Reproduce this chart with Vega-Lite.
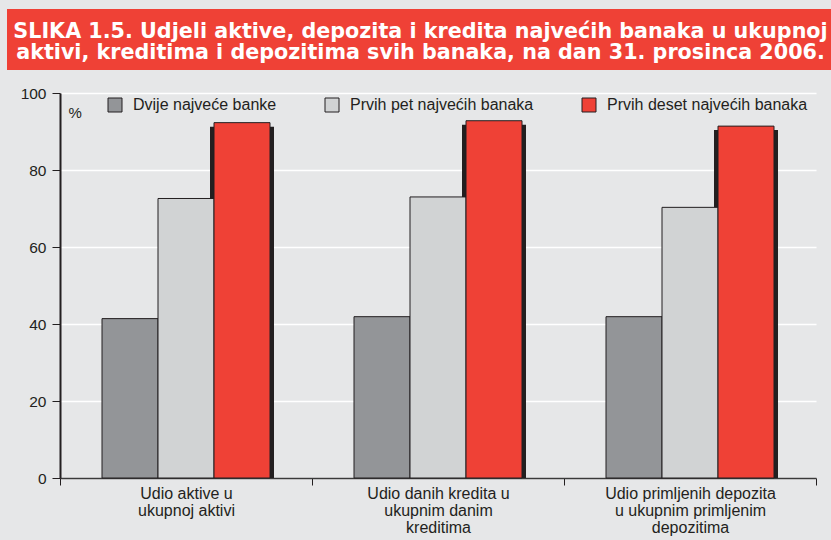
{
  "$schema": "https://vega.github.io/schema/vega-lite/v6.json",
  "background": "#e6e7e8",
  "autosize": {"type": "none"},
  "padding": {"left": 60, "top": 93, "right": 15, "bottom": 62},
  "width": 756,
  "height": 385,
  "config": {
    "font": "Liberation Sans",
    "view": {"stroke": null}
  },
  "layer": [
    {
      "data": {"name": "udjeli"},
      "transform": [{"filter": "datum.skupina === 'Prvih deset najvećih banaka'"}],
      "mark": {"type": "bar", "color": "#231f20", "stroke": "#231f20", "strokeWidth": 8, "yOffset": 8, "clip": true},
      "encoding": {
        "x": {"field": "kategorija", "type": "nominal", "sort": null},
        "xOffset": {"field": "skupina", "type": "nominal", "sort": ["Dvije najveće banke", "Prvih pet najvećih banaka", "Prvih deset najvećih banaka"]},
        "y": {"field": "udio", "type": "quantitative"}
      }
    },
    {
      "data": {"name": "udjeli"},
      "mark": {"type": "bar", "stroke": "#231f20", "strokeWidth": 1, "opacity": 1},
      "encoding": {
        "x": {
          "field": "kategorija", "type": "nominal", "sort": null,
          "scale": {"paddingInner": 0, "paddingOuter": 0},
          "axis": {
            "title": null,
            "tickBand": "extent", "labelAngle": 0, "labelAlign": "center",
            "labelExpr": "split(datum.label, '\\n')",
            "labelFontSize": 16, "labelLineHeight": 17, "labelColor": "#231f20", "labelPadding": 0,
            "labelBaseline": "top",
            "domainColor": "#3a3a3a", "domainWidth": 1.5,
            "tickColor": "#231f20", "tickSize": 7, "tickWidth": 1,
            "grid": false
          }
        },
        "xOffset": {
          "field": "skupina", "type": "nominal",
          "sort": ["Dvije najveće banke", "Prvih pet najvećih banaka", "Prvih deset najvećih banaka"],
          "scale": {"paddingInner": 0, "paddingOuter": 0.75}
        },
        "y": {
          "field": "udio", "type": "quantitative",
          "scale": {"domain": [0, 100], "nice": false},
          "axis": {
            "values": [0, 20, 40, 60, 80, 100],
            "title": "%", "titleAngle": 0, "titleX": 8, "titleY": 24,
            "titleAlign": "left", "titleBaseline": "alphabetic",
            "titleFontWeight": "normal", "titleFontSize": 15, "titleColor": "#231f20",
            "grid": true, "gridColor": "#ffffff", "gridWidth": 1.5,
            "domainColor": "#231f20", "domainWidth": 2,
            "tickColor": "#231f20", "tickSize": 8, "tickWidth": 1,
            "labelPadding": 6, "labelFontSize": 15.5, "labelColor": "#231f20"
          }
        },
        "color": {
          "field": "skupina", "type": "nominal",
          "scale": {
            "domain": ["Dvije najveće banke", "Prvih pet najvećih banaka", "Prvih deset najvećih banaka"],
            "range": ["#939598", "#d1d3d4", "#ef4136"]
          },
          "legend": {
            "orient": "none", "legendX": 47, "legendY": 4, "direction": "horizontal",
            "title": null, "padding": 0,
            "symbolType": "square", "symbolSize": 196,
            "symbolStrokeColor": "#231f20", "symbolStrokeWidth": 1, "symbolOpacity": 1,
            "labelFontSize": 16, "labelColor": "#231f20", "labelOffset": 10, "labelLimit": 400,
            "columnPadding": 46
          }
        }
      }
    },
    {
      "data": {"values": [{"oznaka": "naslov"}]},
      "mark": {"type": "point", "opacity": 0},
      "encoding": {
        "shape": {
          "field": "oznaka", "type": "nominal",
          "legend": {
            "orient": "none", "legendX": -53, "legendY": -84,
            "title": ["SLIKA 1.5. Udjeli aktive, depozita i kredita najvećih banaka u ukupnoj", "aktivi, kreditima i depozitima svih banaka, na dan 31. prosinca 2006."],
            "titleFont": "DejaVu Sans", "titleFontSize": 20.7, "titleFontWeight": "bold",
            "titleColor": "#ffffff", "titleLineHeight": 21.5, "titleLimit": 2000,
            "titleAnchor": "middle", "titleAlign": "center", "titlePadding": 1,
            "titleOrient": "bottom",
            "fillColor": "#ef4136", "padding": 6.5,
            "symbolOpacity": 0, "symbolSize": 20, "symbolStrokeWidth": 0,
            "labelExpr": "''", "labelFontSize": 4.5
          }
        }
      }
    }
  ],
  "datasets": {
    "udjeli": [
      {"kategorija": "Udio aktive u\nukupnoj aktivi", "skupina": "Dvije najveće banke", "udio": 41.4},
      {"kategorija": "Udio aktive u\nukupnoj aktivi", "skupina": "Prvih pet najvećih banaka", "udio": 72.6},
      {"kategorija": "Udio aktive u\nukupnoj aktivi", "skupina": "Prvih deset najvećih banaka", "udio": 92.3},
      {"kategorija": "Udio danih kredita u\nukupnim danim\nkreditima", "skupina": "Dvije najveće banke", "udio": 41.9},
      {"kategorija": "Udio danih kredita u\nukupnim danim\nkreditima", "skupina": "Prvih pet najvećih banaka", "udio": 73.0},
      {"kategorija": "Udio danih kredita u\nukupnim danim\nkreditima", "skupina": "Prvih deset najvećih banaka", "udio": 92.8},
      {"kategorija": "Udio primljenih depozita\nu ukupnim primljenim\ndepozitima", "skupina": "Dvije najveće banke", "udio": 41.9},
      {"kategorija": "Udio primljenih depozita\nu ukupnim primljenim\ndepozitima", "skupina": "Prvih pet najvećih banaka", "udio": 70.3},
      {"kategorija": "Udio primljenih depozita\nu ukupnim primljenim\ndepozitima", "skupina": "Prvih deset najvećih banaka", "udio": 91.4}
    ]
  }
}
